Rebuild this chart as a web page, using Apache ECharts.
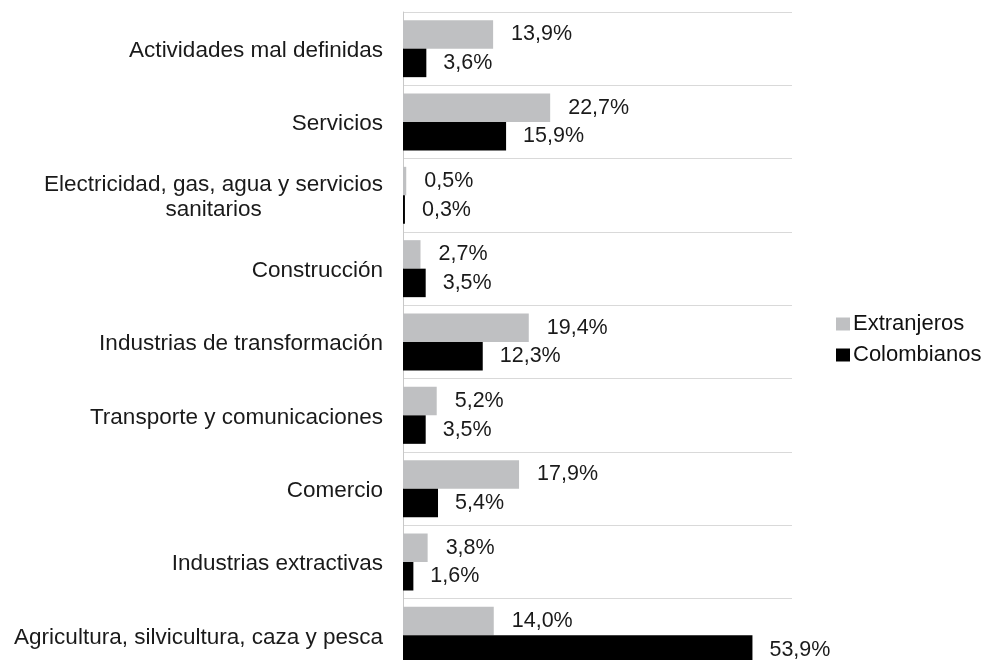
<!DOCTYPE html>
<html>
<head>
<meta charset="utf-8">
<script src="https://cdn.jsdelivr.net/npm/echarts@6/dist/echarts.min.js"></script>
<style>html,body{margin:0;padding:0;background:#fff;}#c{width:986px;height:660px;}</style>
</head>
<body>
<div id="c"></div>
<script>
const categories = [
  "Agricultura, silvicultura, caza y pesca",
  "Industrias extractivas",
  "Comercio",
  "Transporte y comunicaciones",
  "Industrias de transformación",
  "Construcción",
  "Electricidad, gas, agua y servicios\nsanitarios",
  "Servicios",
  "Actividades mal definidas"
];
const extranjeros = [14.0, 3.8, 17.9, 5.2, 19.4, 2.7, 0.5, 22.7, 13.9];
const colombianos = [53.9, 1.6, 5.4, 3.5, 12.3, 3.5, 0.3, 15.9, 3.6];

const FONT = "'Liberation Sans', Arial, sans-serif";
const FS = 21.5;
const FSA = 22.5;
const fmt = p => p.value.toFixed(1).replace('.', ',') + '%';

const chart = echarts.init(document.getElementById('c'), null, {renderer: 'canvas'});
chart.setOption({
  backgroundColor: '#fff',
  animation: false,
  textStyle: {fontFamily: FONT},
  legend: {
    orient: 'vertical',
    left: 831,
    top: 308,
    data: ['Extranjeros', 'Colombianos'],
    icon: 'rect',
    itemWidth: 14,
    itemHeight: 13,
    itemGap: 9,
    textStyle: {fontFamily: FONT, fontSize: 22, color: '#111', padding: [0, 0, 0, -2]}
  },
  grid: {left: 403, top: 12, right: 194, bottom: -12, containLabel: false, outerBoundsMode: 'none'},
  xAxis: {
    type: 'value', min: 0, max: 60,
    axisLabel: {show: false}, axisTick: {show: false},
    axisLine: {show: false}, splitLine: {show: false}
  },
  yAxis: {
    type: 'category',
    data: categories,
    axisTick: {show: false},
    axisLine: {show: true, lineStyle: {color: '#c8c8c8', width: 1}},
    splitLine: {show: true, lineStyle: {color: '#d9d9d9', width: 1}},
    axisLabel: {
      margin: 20,
      fontFamily: FONT, fontSize: FSA, color: '#1a1a1a',
      lineHeight: 25,
      padding: [4, 0, 0, 0],
      formatter: v => v.split('\n').map(s => '{c|' + s + '}').join('\n'),
      rich: {c: {align: 'center', fontFamily: FONT, fontSize: FSA, color: '#1a1a1a', lineHeight: 25}}
    }
  },
  series: [
    {
      name: 'Extranjeros', type: 'bar', data: extranjeros,
      barWidth: 28.5, barGap: '0%',
      itemStyle: {color: '#bfc0c2'},
      label: {show: true, position: 'right', distance: 18, formatter: fmt,
        fontFamily: FONT, fontSize: FS, color: '#1a1a1a'}
    },
    {
      name: 'Colombianos', type: 'bar', data: colombianos,
      barWidth: 28.5, barGap: '0%',
      itemStyle: {color: '#000'},
      label: {show: true, position: 'right', distance: 17, formatter: fmt,
        fontFamily: FONT, fontSize: FS, color: '#1a1a1a'}
    }
  ]
});
</script>
</body>
</html>
